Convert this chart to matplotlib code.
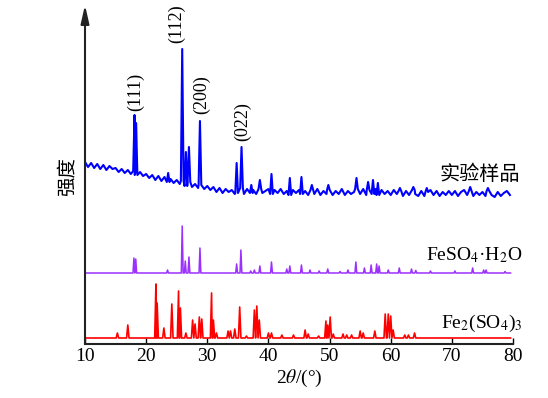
import numpy as np
import matplotlib
matplotlib.use('Agg')
import matplotlib.pyplot as plt

plt.rcParams['font.family'] = ['Liberation Serif', 'Noto Sans CJK SC', 'DejaVu Sans']
plt.rcParams['mathtext.fontset'] = 'stix'

# experimental pattern: baseline (with noise) every 0.5 deg from 10 to 79.5
exp_start = 10.0
exp_step = 0.5
exp_base = [
    182, 177, 181, 176, 180, 175, 179, 174, 178, 175,
    176, 172, 175, 171, 174, 170, 173, 169, 172, 168,
    170, 166, 169, 164, 168, 163, 167, 162, 165, 161,
    164, 160, 163, 158, 162, 157, 160, 156, 159, 155,
    158, 154, 157, 152, 156, 151, 155, 152, 154, 150,
    151, 156, 150, 155, 151, 154, 150, 155, 151, 153,
    155, 150, 154, 151, 155, 150, 153, 149, 154, 151,
    154, 150, 153, 149, 154, 150, 155, 149, 153, 150,
    154, 149, 153, 150, 155, 149, 153, 150, 152, 155,
    150, 155, 149, 154, 150, 155, 149, 154, 150, 153,
    149, 154, 150, 153, 148, 153, 149, 154, 150, 148,
    153, 148, 152, 154, 149, 153, 148, 152, 149, 153,
    149, 153, 148, 152, 154, 149, 153, 148, 152, 149,
    152, 148, 153, 149, 147, 152, 148, 151, 153, 149,
]
exp_peak_pos = [18.1, 18.35, 23.6, 25.9, 26.5, 27.0, 28.8, 34.8, 35.6, 37.2,
                38.6, 40.5, 43.5, 45.4, 47.1, 49.8, 54.4, 56.3, 57.1, 57.9,
                61.5, 63.7, 65.9, 73.0, 75.9]
exp_peak_top = [229, 221, 171, 295, 192, 197, 223, 181, 197, 159,
                164, 170, 166, 167, 159, 159, 166, 162, 164, 161,
                156, 157, 156, 157, 156]

# FeSO4·H2O reference pattern
fes_base = 71
fes_pos = [18.0, 18.3, 23.5, 25.9, 26.4, 27.0, 28.8, 34.8, 35.5, 37.1,
           37.7, 38.6, 40.5, 43.0, 43.5, 45.4, 46.8, 48.3, 49.7, 51.7,
           53.0, 54.3, 55.7, 56.8, 57.7, 58.1, 59.6, 61.4, 63.4, 64.1,
           66.5, 70.5, 73.4, 75.2, 75.6, 78.7]
fes_h = [15, 14, 3, 47, 12, 16, 25, 9, 23, 2,
         3, 7, 11, 4, 7, 8, 3, 2, 4, 1.5,
         3, 11, 5, 8, 9, 7, 3, 5, 4, 2.5,
         2, 2, 5, 3, 3, 1.5]

# Fe2(SO4)3 reference pattern
fe2_base = 6
fe2_pos = [15.3, 17.0, 21.6, 21.8, 22.9, 24.2, 25.3, 25.6, 26.5, 27.6,
           28.0, 28.7, 29.1, 30.7, 31.0, 31.5, 33.4, 33.8, 34.5, 35.3,
           36.4, 37.7, 38.1, 38.5, 40.0, 40.5, 42.2, 44.1, 46.0, 46.5,
           48.2, 49.4, 49.7, 50.1, 50.6, 52.2, 52.8, 53.6, 55.0, 55.5,
           57.4, 59.1, 59.6, 60.0, 60.4, 62.3, 62.9, 63.9]
fe2_h = [5, 13, 54, 35, 10, 34, 47, 30, 5, 18,
         14, 21, 19, 45, 18, 5, 7, 7, 9, 31,
         2, 28, 32, 18, 5, 5, 3, 3, 8, 4,
         2, 17, 13, 21, 4, 4, 3, 3, 7, 5,
         7, 24, 24, 22, 8, 3, 3, 5]
pattern_end = 79.6


def spikes(base_x, base_y, pos, top, hw):
    xs = list(base_x)
    ys = list(base_y)
    keep = [all(abs(x - p) > hw for p in pos) for x in xs]
    xs = [x for x, k in zip(xs, keep) if k]
    ys = [y for y, k in zip(ys, keep) if k]
    for p, t in zip(pos, top):
        i = int(np.argmin(np.abs(np.asarray(base_x) - p)))
        foot = base_y[i]
        xs += [p - hw, p, p + hw]
        ys += [foot, t, foot]
    order = np.argsort(xs, kind='stable')
    return np.asarray(xs)[order], np.asarray(ys)[order]


fig = plt.figure(figsize=(5.48, 3.98), dpi=100)
ax = fig.add_axes([85 / 548, 54 / 398, 428 / 548, 339 / 398])

ex = exp_start + exp_step * np.arange(len(exp_base))
x1, y1 = spikes(ex, exp_base, exp_peak_pos, exp_peak_top, 0.22)
ax.plot(x1, y1, color='#0000FF', lw=1.5)

fx = [10.0, pattern_end]
x2, y2 = spikes(fx, [fes_base, fes_base], fes_pos,
                [fes_base + h for h in fes_h], 0.15)
ax.plot(x2, y2, color='#9B30FF', lw=1.1)

x3, y3 = spikes(fx, [fe2_base, fe2_base], fe2_pos,
                [fe2_base + h for h in fe2_h], 0.2)
ax.plot(x3, y3, color='#FF0000', lw=1.2)

ax.set_xlim(10, 80)
ax.set_ylim(0, 339)
ax.set_xticks(range(10, 81, 10))
ax.set_yticks([])
ax.tick_params(axis='x', direction='in', length=4, width=1, labelsize=14, pad=3)
for s in ['top', 'right', 'left']:
    ax.spines[s].set_visible(False)
ax.spines['bottom'].set_linewidth(1.5)
ax.spines['bottom'].set_color('#222222')
ax.annotate('', xy=(0, 1), xytext=(0, 0), xycoords='axes fraction',
            arrowprops=dict(arrowstyle='-|>,head_length=1.1,head_width=0.25',
                            color='#222222', lw=1.5, shrinkA=0, shrinkB=0))

ax.set_xlabel('2$\\theta$/(°)', fontsize=14, labelpad=2)
fig.text(67 / 548, 1 - 177 / 398, '强度', rotation=90, ha='center', va='center',
         fontsize=14, family=['Noto Sans CJK SC'])

ax.text(81.2, 170, '实验样品', ha='right', va='center', fontsize=14.5,
        family=['Noto Sans CJK SC'])
ax.text(81.6, 89, 'FeSO$_4$·H$_2$O', ha='right', va='center', fontsize=14)
ax.text(81.6, 21, 'Fe$_2$(SO$_4$)$_3$', ha='right', va='center', fontsize=14)

hkl_labels = ['(111)', '(112)', '(200)', '(022)']
hkl_x = [18.3, 25.0, 29.0, 35.7]
hkl_y = [252, 320, 249, 222]
for t, x, y in zip(hkl_labels, hkl_x, hkl_y):
    ax.text(x, y, t, rotation=90, ha='center', va='center', fontsize=13)

fig.savefig('out.png', dpi=100)
